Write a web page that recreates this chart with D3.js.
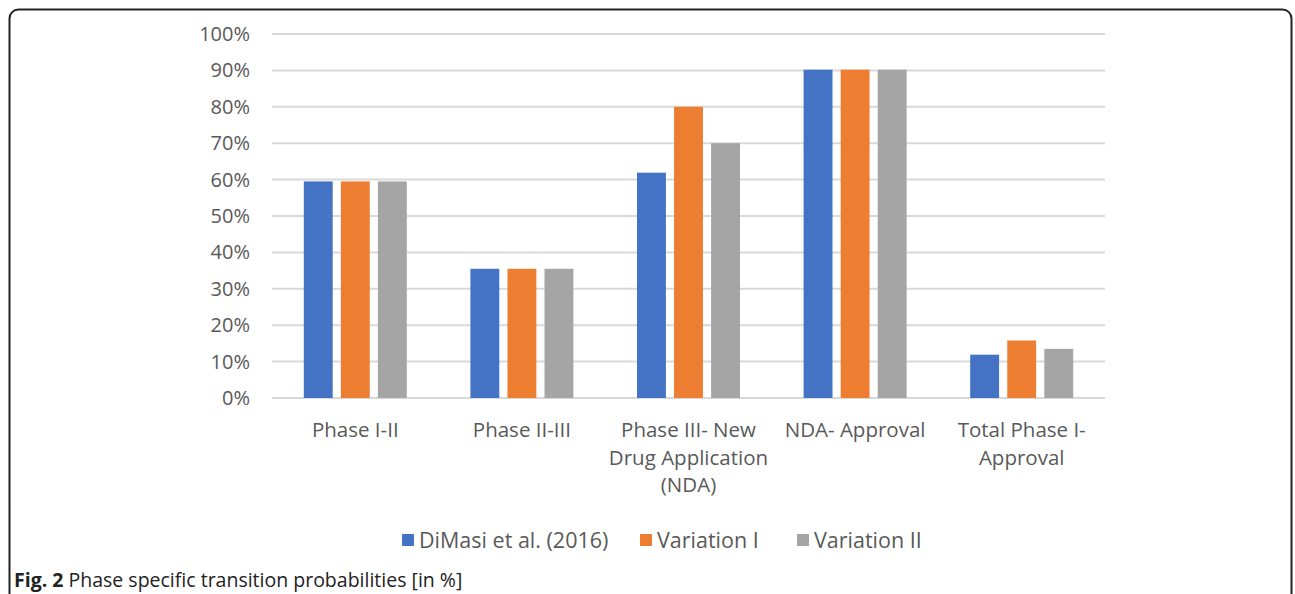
<!DOCTYPE html>
<html>
<head>
<meta charset="utf-8">
<script src="https://cdn.jsdelivr.net/npm/d3@7"></script>
<style>
  body { margin: 0; background: #fff; }
  text { font-family: "Open Sans", sans-serif; }
</style>
</head>
<body>
<div id="chart"></div>
<script>
  // Data
  var categories = [["Phase I-II"], ["Phase II-III"], ["Phase III- New", "Drug Application", "(NDA)"], ["NDA- Approval"], ["Total Phase I-", "Approval"]]
  var seriesNames = ["DiMasi et al. (2016)", "Variation I", "Variation II"]
  var dimasi = [59.5, 35.5, 61.9, 90.2, 11.9]
  var variation1 = [59.5, 35.5, 80, 90.2, 15.8]
  var variation2 = [59.5, 35.5, 70, 90.2, 13.5]
  var yTicks = [0, 10, 20, 30, 40, 50, 60, 70, 80, 90, 100]
  var colors = ["#4472c4", "#ed7d31", "#a5a5a5"]

  var width = 1295
  var height = 594

  var svg = d3.select("#chart")
    .append("svg")
    .attr("width", width)
    .attr("height", height)

  // frame round the figure
  svg.append("rect")
    .attr("x", 9.5).attr("y", 9.5)
    .attr("width", 1282).attr("height", 620)
    .attr("rx", 9)
    .attr("fill", "none")
    .attr("stroke", "#222")
    .attr("stroke-width", 2)

  var x = d3.scaleBand()
    .domain(d3.range(categories.length))
    .range([272, 1105])

  var y = d3.scaleLinear()
    .domain([0, 100])
    .range([398, 34])

  var inner = d3.scaleBand()
    .domain(d3.range(seriesNames.length))
    .range([x.bandwidth() / 2 - 51.5, x.bandwidth() / 2 + 51.5])
    .paddingInner(0.22)

  // gridlines
  svg.append("g")
    .selectAll("line")
    .data(yTicks)
    .enter()
    .append("line")
    .attr("x1", 272).attr("x2", 1105)
    .attr("y1", d => y(d)).attr("y2", d => y(d))
    .attr("stroke", "#d9d9d9")
    .attr("stroke-width", 2)

  // tick labels
  svg.append("g")
    .selectAll("text")
    .data(yTicks)
    .enter()
    .append("text")
    .attr("x", 250)
    .attr("y", d => y(d))
    .attr("dy", "0.35em")
    .attr("text-anchor", "end")
    .attr("font-size", 20)
    .attr("fill", "#595959")
    .text(d => d + "%")

  // bars
  var seriesData = [dimasi, variation1, variation2]
  seriesData.forEach(function (values, s) {
    svg.append("g")
      .selectAll("rect")
      .data(values)
      .enter()
      .append("rect")
      .attr("x", (d, i) => x(i) + inner(s))
      .attr("width", inner.bandwidth())
      .attr("y", d => y(d))
      .attr("height", d => y(0) - y(d))
      .attr("fill", colors[s])
  })

  // category labels
  var cat = svg.append("g")
    .selectAll("text")
    .data(categories)
    .enter()
    .append("text")
    .attr("x", (d, i) => x(i) + x.bandwidth() / 2)
    .attr("y", 437)
    .attr("text-anchor", "middle")
    .attr("font-size", 20.5)
    .attr("fill", "#595959")
  cat.selectAll("tspan")
    .data(d => d)
    .enter()
    .append("tspan")
    .attr("x", function () { return d3.select(this.parentNode).attr("x") })
    .attr("dy", (d, i) => i === 0 ? 0 : 27.5)
    .text(d => d)

  // legend
  var legendX = [402, 640, 797]
  var legend = svg.append("g")
    .selectAll("g")
    .data(seriesNames)
    .enter()
    .append("g")
  legend.append("rect")
    .attr("x", (d, i) => legendX[i])
    .attr("y", 534)
    .attr("width", 12).attr("height", 12)
    .attr("fill", (d, i) => colors[i])
  legend.append("text")
    .attr("x", (d, i) => legendX[i] + 17)
    .attr("y", 548)
    .attr("font-size", 21.5)
    .attr("fill", "#595959")
    .text(d => d)

  // caption
  var cap = svg.append("text")
    .attr("x", 14)
    .attr("y", 587)
    .attr("font-size", 19.5)
    .attr("fill", "#222")
  cap.append("tspan").attr("font-weight", "bold").text("Fig. 2")
  cap.append("tspan").text(" Phase specific transition probabilities [in %]")
</script>
</body>
</html>
